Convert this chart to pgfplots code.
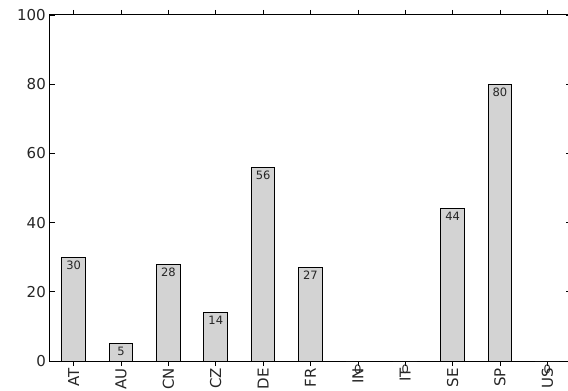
\documentclass[border=0pt]{standalone}
\usepackage{pgfplots}
\pgfplotsset{compat=1.18}
\usepackage{fontspec}
\setmainfont{DejaVu Sans}
\begin{document}
\begin{tikzpicture}
\begin{axis}[
  scale only axis,
  width=521pt, height=346pt,
  xmin=-0.5, xmax=10.5,
  ymin=0, ymax=100,
  ytick={0,20,40,60,80,100},
  xtick={0,1,2,3,4,5,6,7,8,9,10},
  xticklabels={AT,AU,CN,CZ,DE,FR,IN,IT,SE,SP,US},
  tick align=inside,
  major tick length=5pt,
  tick style={black, line width=0.6pt},
  axis line style={black, line width=1pt},
  /pgf/number format/assume math mode=true,
  yticklabel style={font=\fontsize{15}{16}\selectfont, inner sep=4pt, text=black!85},
  xticklabel style={font=\fontsize{15}{16}\selectfont, rotate=90, anchor=east, inner sep=2pt, text=black!85},
  ybar, bar width=0.5, bar shift=0pt,
  nodes near coords,
  every node near coord/.append style={anchor=north, font=\fontsize{11.5}{12}\selectfont, yshift=-1pt, inner sep=2pt, text=black!85},
  clip=false,
]
\addplot[fill={rgb,255:red,211;green,211;blue,211}, draw=black, line width=1pt]
  coordinates {(0,30) (1,5) (2,28) (3,14) (4,56) (5,27) (6,0) (7,0) (8,44) (9,80) (10,0)};
\coordinate (SW) at (rel axis cs:0,0);
\coordinate (NE) at (rel axis cs:1,1);
\end{axis}
\pgfresetboundingbox
\useasboundingbox ([xshift=-50pt,yshift=-30pt]SW) rectangle ([xshift=-3pt,yshift=15pt]NE);
\end{tikzpicture}
\end{document}
